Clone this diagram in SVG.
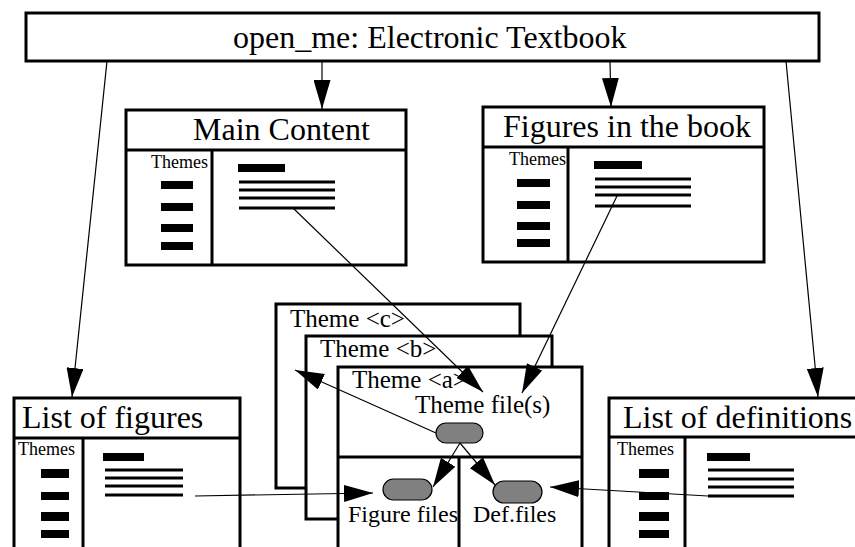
<svg xmlns="http://www.w3.org/2000/svg" width="855" height="547" viewBox="0 0 855 547">
<style>
.box{fill:#fff;stroke:#000;stroke-width:3}
.sep{stroke:#000;stroke-width:3;fill:none}
.t{font-family:"Liberation Serif","Times New Roman",serif;fill:#000}
.big{font-size:32px}
.mid{font-size:25px}
.sm{font-size:24px}
.th{font-size:18px}
.bar{fill:#000}
.ln{stroke:#000;stroke-width:3}
.pill{fill:#808080;stroke:#000;stroke-width:1.2}
.con{stroke:#000;stroke-width:1.2;fill:none;marker-end:url(#ah)}
</style>
<defs>
<marker id="ah" markerUnits="userSpaceOnUse" markerWidth="29" markerHeight="17" refX="29" refY="8.5" orient="auto">
<path d="M0,0 L29,8.5 L0,17 Z" fill="#000"/>
</marker>
</defs>
<rect width="855" height="547" fill="#fff"/>

<g id="top">
<rect class="box" x="26" y="13" width="793" height="48"/>
<text class="t big" x="233" y="48">open_me: Electronic Textbook</text>
</g>

<g id="main-content">
<rect class="box" x="126" y="110" width="280" height="155"/>
<line class="sep" x1="126" y1="150" x2="406" y2="150"/>
<line class="sep" x1="212" y1="150" x2="212" y2="265"/>
<text class="t big" x="193" y="140">Main Content</text>
<text class="t th" x="151" y="168">Themes</text>
<rect class="bar" x="161" y="181" width="32" height="8"/>
<rect class="bar" x="161" y="203" width="32" height="8"/>
<rect class="bar" x="161" y="224" width="32" height="8"/>
<rect class="bar" x="161" y="242" width="32" height="8"/>
<rect class="bar" x="238" y="164" width="47" height="8"/>
<line class="ln" x1="239" y1="182" x2="335" y2="182"/>
<line class="ln" x1="239" y1="190" x2="335" y2="190"/>
<line class="ln" x1="239" y1="198" x2="335" y2="198"/>
<line class="ln" x1="239" y1="208" x2="335" y2="208"/>
</g>

<g id="figures-in-book">
<rect class="box" x="483" y="107" width="281" height="155"/>
<line class="sep" x1="483" y1="147" x2="764" y2="147"/>
<line class="sep" x1="568" y1="147" x2="568" y2="262"/>
<text class="t big" x="503" y="137">Figures in the book</text>
<text class="t th" x="509" y="165">Themes</text>
<rect class="bar" x="517" y="179" width="33" height="8"/>
<rect class="bar" x="517" y="201" width="33" height="8"/>
<rect class="bar" x="517" y="222" width="33" height="8"/>
<rect class="bar" x="517" y="239" width="33" height="8"/>
<rect class="bar" x="594" y="161" width="48" height="8"/>
<line class="ln" x1="595" y1="179" x2="691" y2="179"/>
<line class="ln" x1="595" y1="187" x2="691" y2="187"/>
<line class="ln" x1="595" y1="195" x2="691" y2="195"/>
<line class="ln" x1="595" y1="206" x2="691" y2="206"/>
</g>

<g id="list-of-figures">
<rect class="box" x="14" y="398" width="226" height="170"/>
<line class="sep" x1="14" y1="438" x2="240" y2="438"/>
<line class="sep" x1="83" y1="438" x2="83" y2="560"/>
<text class="t big" x="22" y="428">List of figures</text>
<text class="t th" x="18" y="455">Themes</text>
<rect class="bar" x="41" y="469" width="28" height="9"/>
<rect class="bar" x="41" y="492" width="28" height="8"/>
<rect class="bar" x="41" y="512" width="28" height="9"/>
<rect class="bar" x="41" y="530" width="28" height="8"/>
<rect class="bar" x="103" y="453" width="41" height="8"/>
<line class="ln" x1="105" y1="470" x2="183" y2="470"/>
<line class="ln" x1="105" y1="478" x2="183" y2="478"/>
<line class="ln" x1="105" y1="486" x2="183" y2="486"/>
<line class="ln" x1="105" y1="495" x2="183" y2="495"/>
</g>

<g id="list-of-definitions">
<rect class="box" x="609" y="398" width="270" height="170"/>
<line class="sep" x1="609" y1="437" x2="870" y2="437"/>
<line class="sep" x1="685" y1="437" x2="685" y2="560"/>
<text class="t big" x="623" y="428">List of definitions</text>
<text class="t th" x="617" y="455">Themes</text>
<rect class="bar" x="639" y="469" width="30" height="9"/>
<rect class="bar" x="639" y="492" width="30" height="8"/>
<rect class="bar" x="639" y="512" width="30" height="9"/>
<rect class="bar" x="639" y="530" width="30" height="8"/>
<rect class="bar" x="707" y="453" width="43" height="8"/>
<line class="ln" x1="708" y1="470" x2="794" y2="470"/>
<line class="ln" x1="708" y1="479" x2="794" y2="479"/>
<line class="ln" x1="708" y1="487" x2="794" y2="487"/>
<line class="ln" x1="708" y1="496" x2="794" y2="496"/>
</g>

<g id="theme-c">
<rect class="box" x="276" y="304" width="244" height="184"/>
<text class="t mid" x="290" y="327">Theme &lt;c&gt;</text>
</g>

<g id="theme-b">
<rect class="box" x="306" y="336" width="246" height="183"/>
<text class="t mid" x="320" y="357">Theme &lt;b&gt;</text>
</g>

<g id="theme-a">
<rect class="box" x="338" y="367" width="244" height="200"/>
<line class="sep" x1="338" y1="457" x2="582" y2="457"/>
<line class="sep" x1="459" y1="457" x2="459" y2="560"/>
<text class="t mid" x="352" y="388">Theme &lt;a&gt;</text>
<text class="t mid" x="415" y="413">Theme file(s)</text>
<text class="t sm" x="348" y="522">Figure files</text>
<text class="t sm" x="473" y="522">Def.files</text>
</g>

<g id="theme-file-pill">
<rect class="pill" x="436" y="423" width="47" height="20" rx="10"/>
</g>
<g id="figure-files-pill">
<rect class="pill" x="383" y="479" width="49" height="21" rx="10.5"/>
</g>
<g id="def-files-pill">
<rect class="pill" x="493" y="481" width="49" height="22" rx="11"/>
</g>

<g id="connectors">
<line class="con" x1="107" y1="61" x2="72" y2="397"/>
<line class="con" x1="322" y1="61" x2="322" y2="109"/>
<line class="con" x1="610" y1="61" x2="611" y2="107"/>
<line class="con" x1="786" y1="61" x2="818" y2="397"/>
<line class="con" x1="293" y1="208" x2="483" y2="392"/>
<line class="con" x1="617" y1="196" x2="522" y2="393"/>
<line class="con" x1="436" y1="433" x2="295" y2="370"/>
<line class="con" x1="460" y1="443" x2="433" y2="487"/>
<line class="con" x1="460" y1="443" x2="495" y2="485"/>
<line class="con" x1="195" y1="496" x2="373" y2="493"/>
<line class="con" x1="708" y1="496" x2="550" y2="487"/>
</g>
</svg>
